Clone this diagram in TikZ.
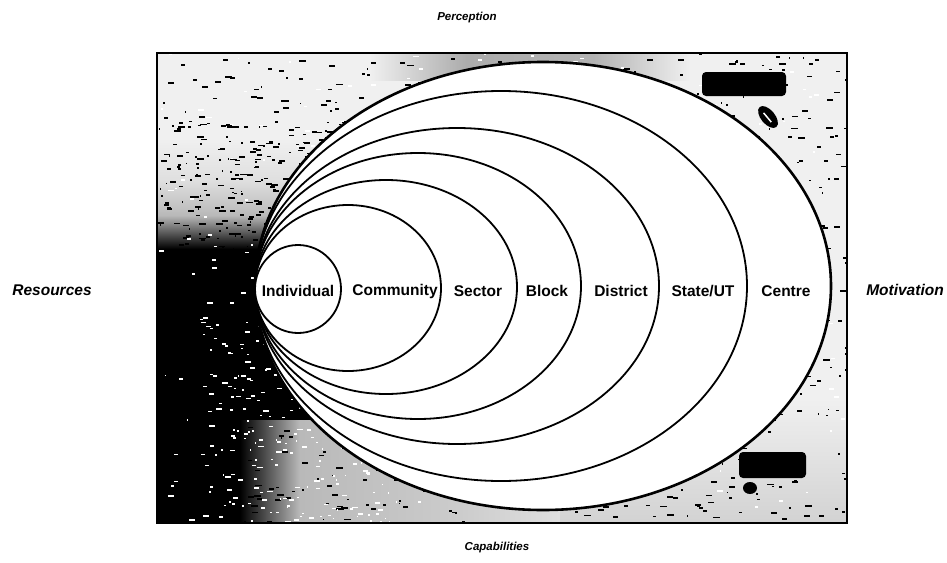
\documentclass[tikz,border=0pt]{standalone}
\usepackage{fontspec}
\setmainfont{Liberation Sans}
\pgfdeclareverticalshading{leftcol}{100bp}{color(0bp)=(black); color(25bp)=(black); color(50bp)=(black); color(54.3bp)=(gray!55); color(58.8bp)=(gray!25); color(64bp)=(gray!12); color(100bp)=(gray!12)}
\pgfdeclarehorizontalshading{bottomstrip}{100bp}{color(0bp)=(black); color(35.3bp)=(black); color(42.7bp)=(gray!55); color(62.6bp)=(gray!40); color(75bp)=(gray!25); color(100bp)=(gray!25)}
\pgfdeclarehorizontalshading{topstrip}{100bp}{color(0bp)=(gray!12); color(25bp)=(gray!12); color(40bp)=(gray!65); color(60bp)=(gray!60); color(75bp)=(gray!12); color(100bp)=(gray!12)}
\tikzset{
  ring/.style={draw=black, fill=white, line width=1.8pt},
  outerring/.style={draw=black, fill=white, line width=2.6pt},
  lvl/.style={font=\fontsize{15.5}{17}\selectfont\bfseries, inner sep=0pt},
  side/.style={font=\fontsize{15.5}{17}\selectfont\bfseries\itshape, inner sep=0pt},
  sidesmall/.style={font=\fontsize{11.5}{13}\selectfont\bfseries\itshape, inner sep=0pt},
  blob/.style={fill=black, rounded corners=4pt}
}
\begin{document}
\begin{tikzpicture}[x=1pt,y=-1pt]
\useasboundingbox (0,0) rectangle (947,562);
\fill[white] (0,0) rectangle (947,562);
% ---- textured background ----
\begin{scope}
\clip (157,53) rectangle (847,523);
\fill[gray!12] (157,53) rectangle (847,523);
\shade[shading=leftcol] (157,53) rectangle (400,445);
\shade[shading=bottomstrip] (157,420) rectangle (560,523);
\shade[top color=gray!12, bottom color=gray!35] (560,400) rectangle (847,523);
\shade[shading=topstrip] (370,53) rectangle (690,80);
\pgfmathsetseed{12}
\foreach \i in {1,...,1000} {
  \pgfmathsetmacro{\sx}{157+690*rnd}
  \pgfmathsetmacro{\sy}{53+470*rnd}
  \pgfmathsetmacro{\sw}{1+6*rnd}
  \fill[black] (\sx,\sy) rectangle ++(\sw,1.7);
}
\foreach \i in {1,...,250} {
  \pgfmathsetmacro{\sx}{157+200*rnd}
  \pgfmathsetmacro{\sy}{120+140*rnd}
  \pgfmathsetmacro{\sw}{1+6*rnd}
  \fill[black] (\sx,\sy) rectangle ++(\sw,1.7);
}
\foreach \i in {1,...,300} {
  \pgfmathsetmacro{\sx}{200+220*rnd}
  \pgfmathsetmacro{\sy}{300+223*rnd}
  \pgfmathsetmacro{\sw}{1+5*rnd}
  \fill[white] (\sx,\sy) rectangle ++(\sw,1.6);
}
\foreach \i in {1,...,300} {
  \pgfmathsetmacro{\sx}{157+690*rnd}
  \pgfmathsetmacro{\sy}{53+470*rnd}
  \pgfmathsetmacro{\sw}{1+5*rnd}
  \fill[white] (\sx,\sy) rectangle ++(\sw,1.6);
}
% illegible dark label blobs
\fill[blob] (702,72) rectangle (786,96);
\fill[black, rotate around={-50:(768,117)}] (768,117) ellipse [x radius=13pt, y radius=7pt];
\fill[white, rotate around={-50:(768,117)}] (762,117) rectangle (774,118.5);
\fill[blob] (739,452) rectangle (806,478);
\fill[black] (750,488) ellipse [x radius=7pt, y radius=6pt];
\end{scope}
\draw[line width=1.8pt] (157,53) rectangle (847,523);
% ---- nested ellipses ----
\draw[outerring] (543,286) ellipse [x radius=288pt, y radius=224pt];
\draw[ring] (501,286) ellipse [x radius=246pt, y radius=195pt];
\draw[ring] (457,286) ellipse [x radius=202pt, y radius=158pt];
\draw[ring] (418,286) ellipse [x radius=163pt, y radius=133pt];
\draw[ring] (386,287) ellipse [x radius=131pt, y radius=107pt];
\draw[ring] (348,288) ellipse [x radius=93pt, y radius=83pt];
\draw[ring] (298,289) ellipse [x radius=43pt, y radius=44pt];
% ---- labels ----
\node[lvl] (individual) at (298,291) {Individual};
\node[lvl] (community) at (395,291) {Community};
\node[lvl] (sector) at (478,291) {Sector};
\node[lvl] (block) at (547,291) {Block};
\node[lvl] (district) at (621,291) {District};
\node[lvl] (state) at (703,291) {State/UT};
\node[lvl] (centre) at (786,291) {Centre};
\node[sidesmall] (perception) at (467,18) {Perception};
\node[sidesmall] (capabilities) at (497,548) {Capabilities};
\node[side] (resources) at (52,290) {Resources};
\node[side] (motivation) at (905,290) {Motivation};
\end{tikzpicture}
\end{document}
